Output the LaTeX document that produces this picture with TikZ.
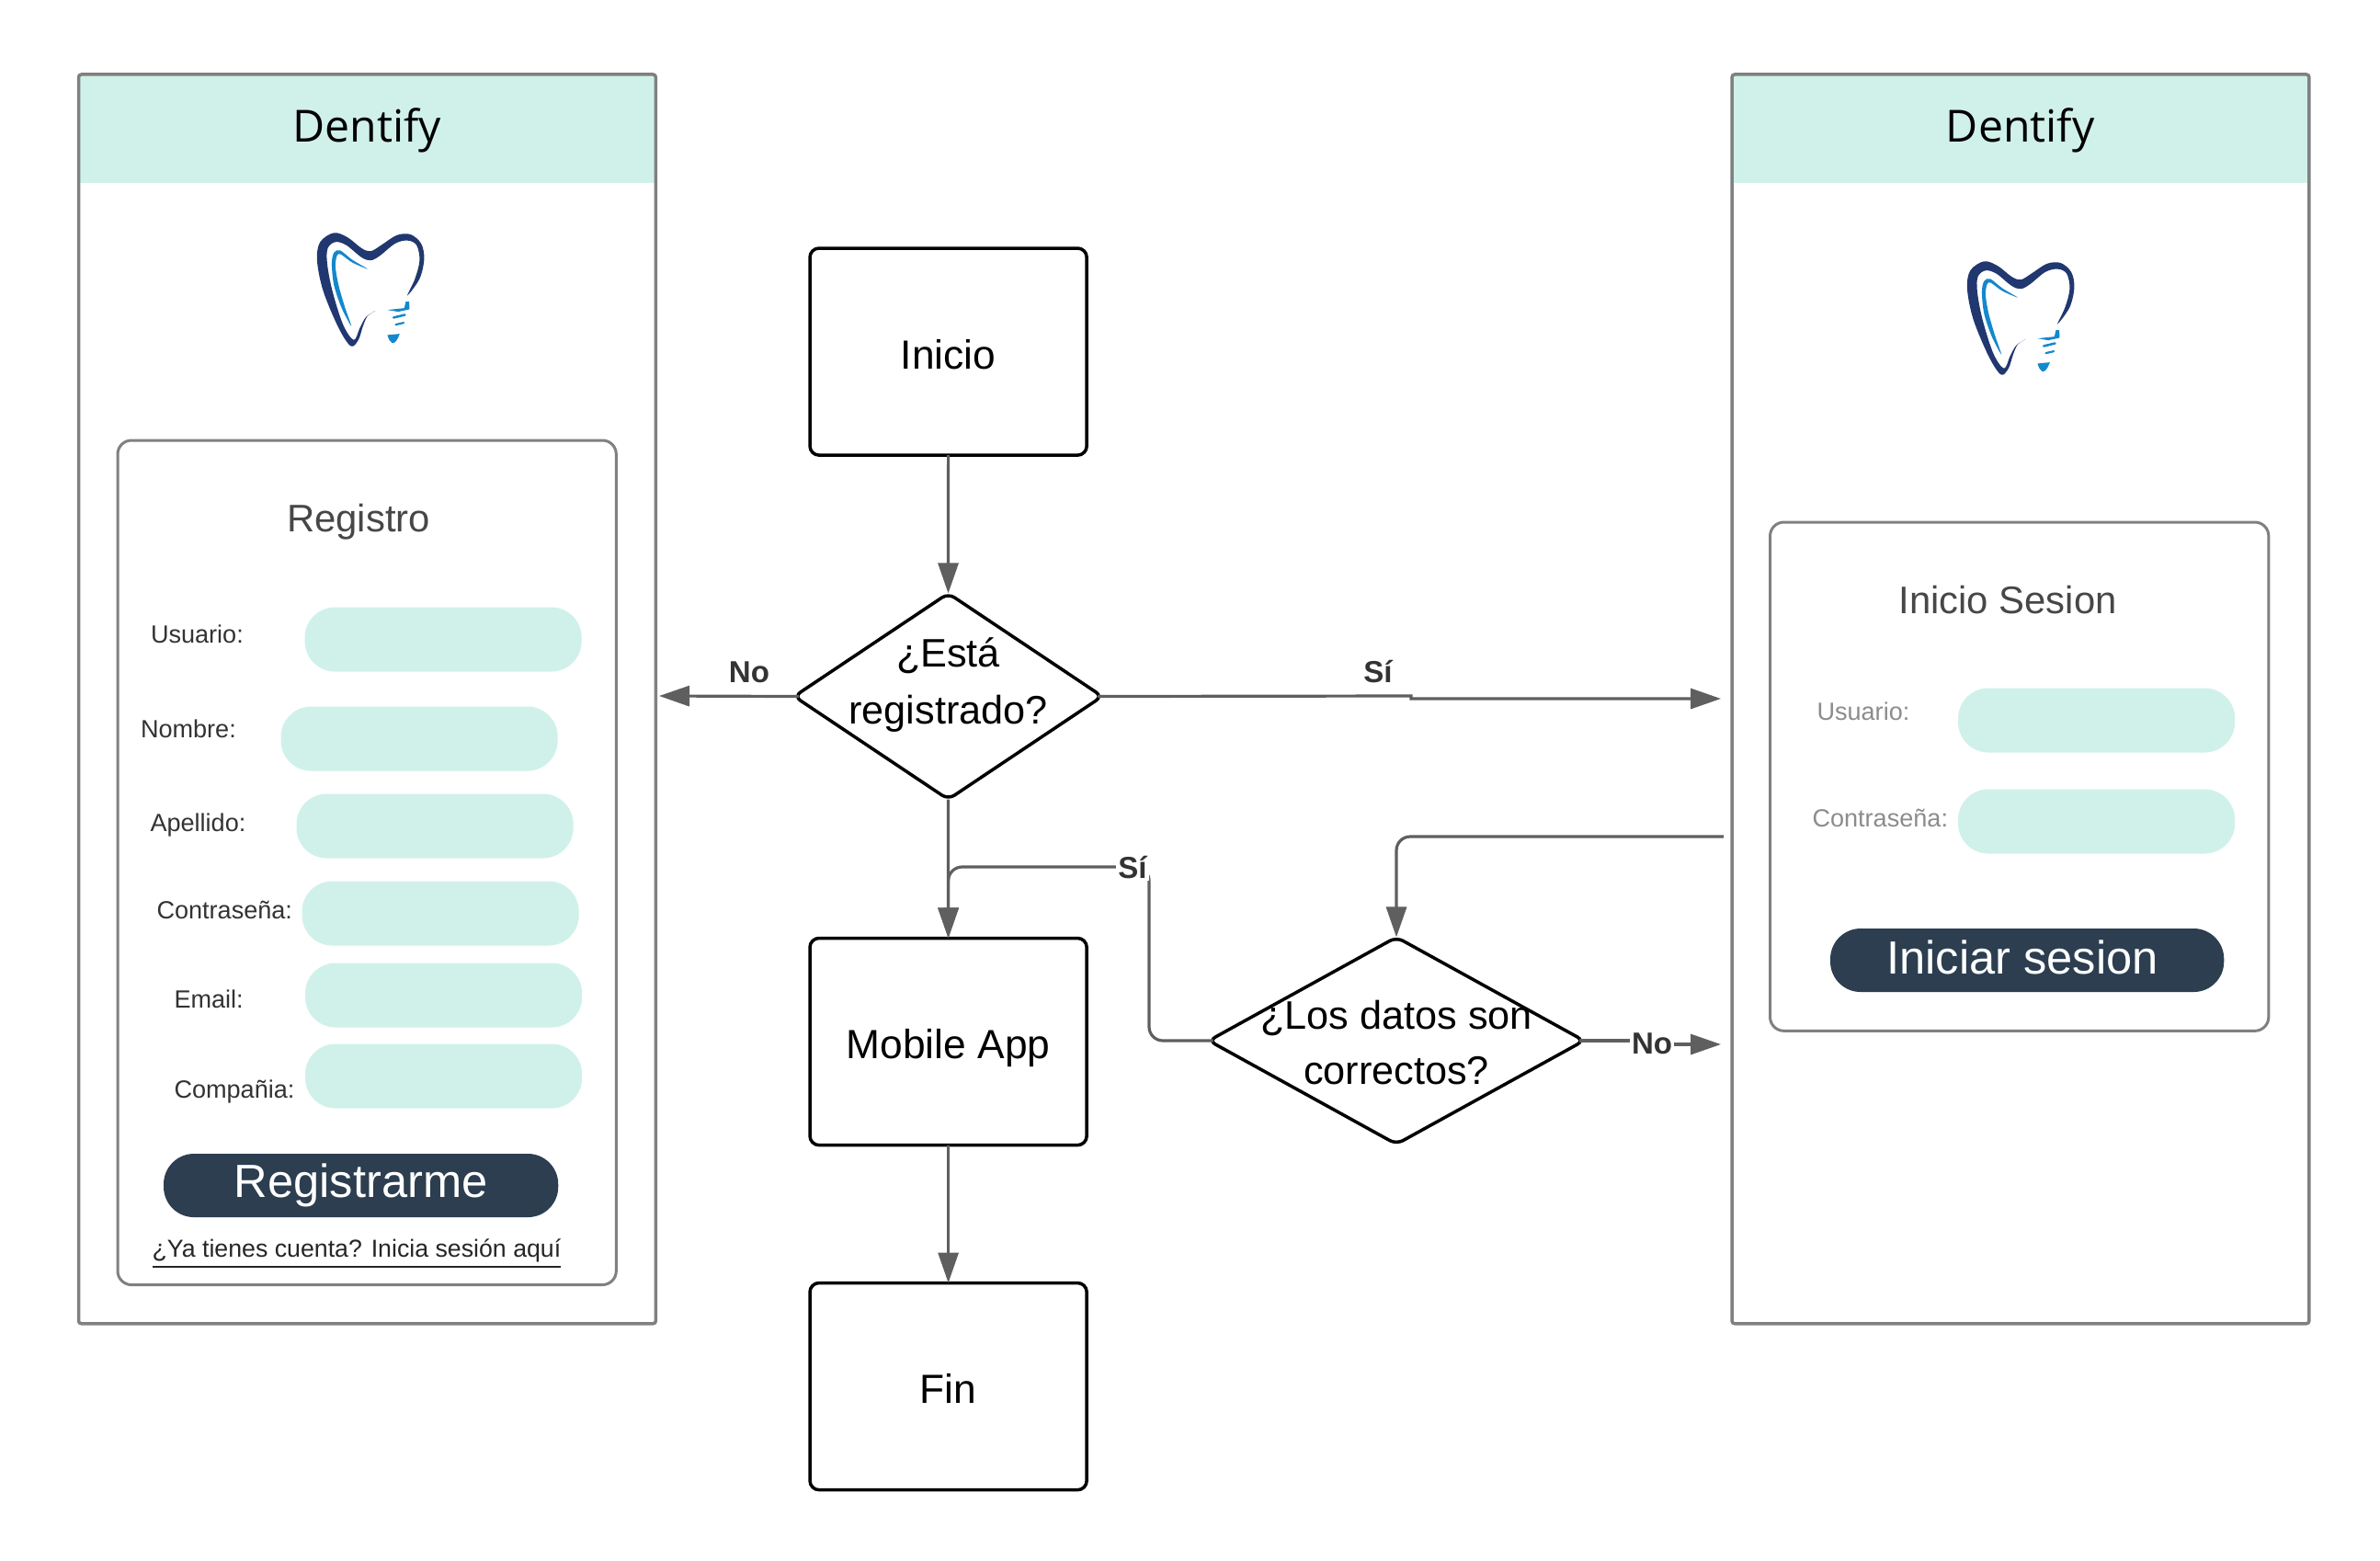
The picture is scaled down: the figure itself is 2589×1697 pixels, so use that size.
\documentclass[tikz,border=0pt]{standalone}
\usepackage{fontspec}
\setmainfont{Liberation Sans}
\newfontfamily\dentfont{Open Sans}
\usetikzlibrary{shapes.geometric,arrows.meta}
\definecolor{mint}{HTML}{D0F1E9}
\definecolor{navy}{HTML}{2C3E50}
\definecolor{framegray}{HTML}{808080}
\definecolor{linegray}{HTML}{5F5F5F}
\definecolor{toothdark}{HTML}{21376F}
\definecolor{toothblue}{HTML}{1488CC}
\newcommand\pxfont[1]{\fontsize{#1}{#1}\selectfont}
\newcommand\toothlogo[2]{%
\begin{scope}[shift={(#1,#2)},x=0.003333cm,y=-0.003333cm]
\fill[toothdark] plot[smooth cycle,tension=.55] coordinates {(245,470) (205,410) (155,290) (135,190) (145,130) (190,100) (235,115) (280,150) (310,160) (345,140) (395,108) (440,105) (475,135) (485,185) (470,250) (430,305) (455,250) (470,190) (460,140) (430,125) (390,135) (340,175) (310,190) (280,180) (230,140) (195,130) (170,150) (168,200) (185,290) (220,400) (255,450) (275,410) (295,375) (325,355) (300,372) (285,405) (270,450)};
\fill[toothblue] plot[smooth cycle,tension=.5] coordinates {(300,218) (250,188) (210,157) (190,165) (183,200) (190,270) (215,345) (247,405) (225,340) (205,270) (195,210) (200,175) (212,170) (250,197)};
\fill[toothblue] (365,352) -- (420,346) -- (425,325) -- (436,325) -- (437,350) -- (400,358) -- cycle;
\draw[toothblue,line width=.025cm,line cap=round] (385,377) -- (422,368);
\draw[toothblue,line width=.022cm,line cap=round] (392,400) -- (418,394);
\fill[toothblue] (365,434) -- (405,430) .. controls (398,450) and (390,462) .. (380,460) .. controls (372,455) and (368,445) .. (365,434) -- cycle;
\end{scope}}
\tikzset{
  every node/.style={outer sep=0},
  panel/.style={draw=framegray,line width=.035cm,rounded corners=.03cm,minimum width=6.275cm,minimum height=13.58cm,anchor=north west,inner sep=0},
  header/.style={fill=mint,minimum width=6.27cm,minimum height=1.175cm,anchor=north west,inner sep=0,text=black,font=\dentfont\pxfont{13.7pt},text height=.35cm,text depth=.06cm},
  card/.style={draw=framegray,line width=.03cm,rounded corners=.15cm,fill=white,anchor=north west,inner sep=0,minimum width=5.42cm},
  field/.style={fill=mint,rounded corners=.33cm,minimum width=3.01cm,minimum height=.7cm,anchor=north west,inner sep=0},
  btn/.style={fill=navy,rounded corners=.33cm,anchor=north west,inner sep=0,minimum height=.69cm,text=white,font=\pxfont{14.4pt}},
  flabel/.style={anchor=base west,inner sep=0,text=black!80,font=\pxfont{7.7pt}},
  flabelg/.style={anchor=base west,inner sep=0,text=black!45,font=\pxfont{7.7pt}},
  ctitle/.style={anchor=base,inner sep=0,text=black!72,font=\pxfont{11.9pt}},
  flowbox/.style={draw=black,line width=.035cm,rounded corners=.1cm,fill=white,minimum width=3.01cm,minimum height=2.25cm,inner sep=0,anchor=north west,font=\pxfont{12.6pt},text height=.37cm,text depth=0cm},
  dia/.style={draw=black,line width=.035cm,diamond,rounded corners=.08cm,fill=white,inner sep=0},
  diatext/.style={anchor=base,inner sep=0,font=\pxfont{12.3pt}},
  conn/.style={draw=linegray,line width=.032cm,rounded corners=.15cm,-{Triangle[length=.33cm,width=.22cm]}},
  edgetext/.style={inner sep=.02cm,fill=white,text=black!80,font=\bfseries\pxfont{9.4pt}},
}
\begin{document}
\begin{tikzpicture}[x=0.01cm,y=-0.01cm]
\useasboundingbox (0,0) rectangle (2589,1697);
% left screen
\node[header] (hL) at (85.5,81) {Dentify};
\node[panel] (pL) at (85.5,81) {};
\toothlogo{300}{220}
\node[card,minimum height=9.18cm] (cL) at (128,479) {};
\node[ctitle] (tReg) at (390,578) {Registro};
\node[field] (f1) at (331.5,660.5) {};
\node[field] (f2) at (305.5,768.5) {};
\node[field] (f3) at (322.5,863.5) {};
\node[field] (f4) at (328.5,958.5) {};
\node[field] (f5) at (332,1047.5) {};
\node[field] (f6) at (332,1135.5) {};
\node[flabel] (l1) at (164,699) {Usuario:};
\node[flabel] (l2) at (153,802) {Nombre:};
\node[flabel] (l3) at (163.5,904) {Apellido:};
\node[flabel] (l4) at (170.5,999) {Contraseña:};
\node[flabel] (l5) at (189.5,1096) {Email:};
\node[flabel] (l6) at (189.5,1194) {Compañia:};
\node[btn,minimum width=4.29cm,text height=.365cm,text depth=.10cm] (bReg) at (178,1255) {Registrarme};
\node[anchor=base,inner sep=0,text=black!85,font=\pxfont{7.6pt}] (ya) at (388,1367.5) {\underline{¿Ya tienes cuenta? Inicia sesión aquí}};
% right screen
\node[header] (hR) at (1884,81) {Dentify};
\node[panel] (pR) at (1884,81) {};
\toothlogo{2095}{251}
\node[card,minimum height=5.53cm] (cR) at (1925.5,568) {};
\node[ctitle] (tIni) at (2184,667) {Inicio Sesion};
\node[field] (g1) at (2130,748.5) {};
\node[field] (g2) at (2130,858.5) {};
\node[flabelg] (m1) at (1976.5,783) {Usuario:};
\node[flabelg] (m2) at (1971.5,899) {Contraseña:};
\node[btn,minimum width=4.28cm,text height=.36cm,text depth=.06cm] (bIni) at (1991,1010) {Iniciar sesion\kern.10cm};
% flow
\node[flowbox] (ini) at (881,270) {Inicio};
\node[dia,minimum width=3.35cm,minimum height=2.24cm] (d1) at (1031.5,757.5) {};
\node[diatext] (d1a) at (1031.5,725) {¿Está};
\node[diatext] (d1b) at (1031.5,787) {registrado?};
\node[flowbox] (app) at (881,1020.5) {Mobile App};
\node[flowbox] (fin) at (881,1395.5) {Fin};
\node[dia,minimum width=4.08cm,minimum height=2.25cm] (d2) at (1519,1132) {};
\node[diatext] (d2a) at (1519,1119) {¿Los datos son};
\node[diatext] (d2b) at (1519,1179) {correctos?};
\coordinate (toL) at (717,757);
\coordinate (toR) at (1872,760);
\coordinate (fromR) at (1875,910);
\coordinate (toR2) at (1872,1136);
\path[conn] (ini.south) -- (d1.north);
\path[conn,shorten <=-.05cm] (d1.west) -- (toL);
\path[conn,rounded corners=0,shorten <=-.05cm] (d1.east) -- (1535,757) -- (1535,760) -- (toR);
\path[conn] (d1.south) -- (app.north);
\path[conn,shorten <=-.05cm] (d2.west) -- (1250,1132) -- (1250,943) -- (app.north |- 1250,943) -- (app.north);
\path[conn] (fromR) -- (d2.north |- fromR) -- (d2.north);
\path[conn,rounded corners=0,shorten <=-.05cm] (d2.east) -- (1797,1132) -- (1797,1136) -- (toR2);
\path[conn] (app.south) -- (fin.north);
\node[edgetext,fill=none] (eNo1) at (815,731) {No};
\node[edgetext,fill=none] (eSi1) at (1499,731) {Sí};
\node[edgetext] (eSi2) at (1232,944) {Sí};
\node[edgetext] (eNo2) at (1797,1135) {No};
\end{tikzpicture}
\end{document}
